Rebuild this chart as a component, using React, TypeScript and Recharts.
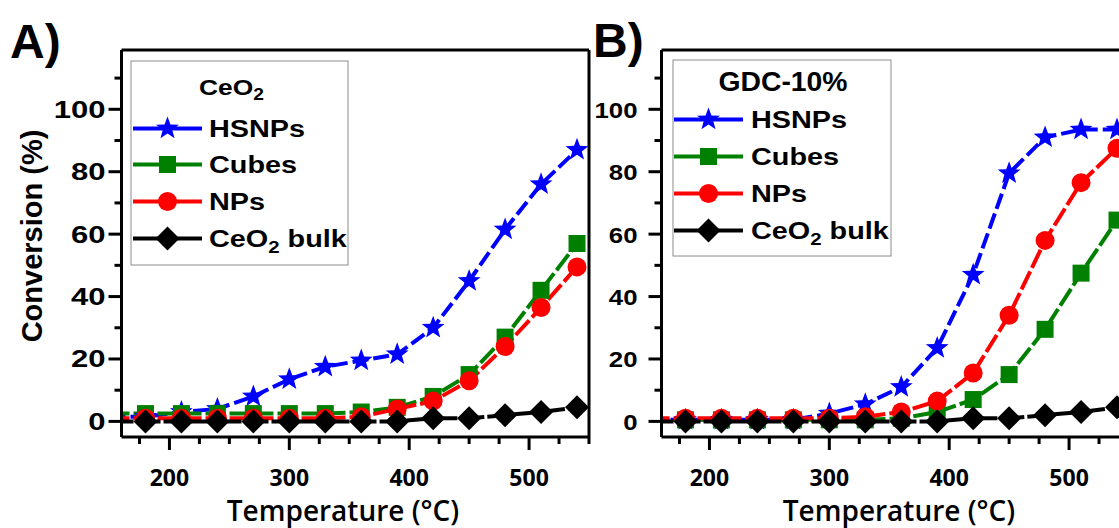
import React from 'react';
import { LineChart, Line, XAxis, YAxis } from 'recharts';

// temperature (°C) of each measurement
const temps = [150, 180, 210, 240, 270, 300, 330, 360, 390, 420, 450, 480, 510, 540];

// A) CeO2
const hsnpA = [1.5, 1.5, 3, 4, 8, 13.5, 17.5, 19.5, 21.5, 30, 45, 61.5, 76, 87];
const cubesA = [2.5, 2.5, 2.5, 2.5, 2.5, 2.5, 2.5, 3, 4.5, 8, 15, 27, 42, 57];
const npsA = [1, 1, 1, 1, 1, 1, 1, 1.5, 4, 6.5, 13, 24, 36.5, 49.5];
const bulkA = [0, 0, 0, 0, 0, 0, 0, 0, 0, 1, 1, 2, 3, 4.5];

// B) GDC-10%
const hsnpB = [0.5, 0.5, 0.5, 0.5, 0.5, 2.5, 5.5, 11, 23.5, 47, 79.5, 91, 93.5, 93.5];
const cubesB = [0.5, 0.5, 0.5, 0.5, 0.5, 0.5, 0.5, 1, 3, 7, 15, 29.5, 47.5, 64.5];
const npsB = [1, 1, 1, 1, 1, 1, 1.5, 3, 6.5, 15.5, 34, 58, 76.5, 87.5];
const bulkB = [0, 0, 0, 0, 0, 0, 0, 0, 0, 1, 1, 2, 3, 4.5];

const xTicks = [175, 200, 225, 250, 275, 300, 325, 350, 375, 400, 425, 450, 475, 500, 525, 550];
const yTicks = [0, 10, 20, 30, 40, 50, 60, 70, 80, 90, 100, 110];

const SANS = '"Liberation Sans", Arial, sans-serif';
const OPEN = '"Open Sans", sans-serif';
const AXIS = { stroke: '#000', strokeWidth: 3 };

type Shape = 'star' | 'square' | 'circle' | 'diamond';
const series: { key: string; name: string; color: string; dash: string; shape: Shape }[] = [
  { key: 'hsnps', name: 'HSNPs', color: '#0000ff', dash: '16 5', shape: 'star' },
  { key: 'cubes', name: 'Cubes', color: '#008000', dash: '20 4', shape: 'square' },
  { key: 'nps', name: 'NPs', color: '#ff0000', dash: '20 4', shape: 'circle' },
  { key: 'bulk', name: 'bulk', color: '#000000', dash: '24 3', shape: 'diamond' },
];

const rowsA = temps.map((t, i) => ({ t, hsnps: hsnpA[i], cubes: cubesA[i], nps: npsA[i], bulk: bulkA[i] }));
const rowsB = temps.map((t, i) => ({ t, hsnps: hsnpB[i], cubes: cubesB[i], nps: npsB[i], bulk: bulkB[i] }));

const starPath = (cx: number, cy: number, R: number, r: number) => {
  let d = '';
  for (let k = 0; k < 10; k++) {
    const rad = k % 2 === 0 ? R : r;
    const a = -Math.PI / 2 + (k * Math.PI) / 5;
    d += (k === 0 ? 'M' : 'L') + (cx + rad * Math.cos(a)).toFixed(2) + ',' + (cy + rad * Math.sin(a)).toFixed(2);
  }
  return d + 'Z';
};

function Marker({ shape, cx, cy, color }: { shape: Shape; cx: number; cy: number; color: string }) {
  if (shape === 'star') return <path d={starPath(cx, cy, 12, 5)} fill={color} />;
  if (shape === 'square') return <rect x={cx - 8.5} y={cy - 8.5} width={17} height={17} fill={color} />;
  if (shape === 'circle') return <circle cx={cx} cy={cy} r={9.5} fill={color} />;
  return <path d={`M${cx},${cy - 12}L${cx + 12},${cy}L${cx},${cy + 12}L${cx - 12},${cy}Z`} fill={color} />;
}

function SText({ x, y, sx = 1, anchor = 'start', size, family = SANS, weight = 700, children }: any) {
  return (
    <text transform={`translate(${x} ${y}) scale(${sx} 1)`} textAnchor={anchor} fontSize={size}
      fontFamily={family} fontWeight={weight} fill="#000">
      {children}
    </text>
  );
}

const XTick = (p: any) => {
  const v = p.payload.value;
  const major = v % 100 === 0;
  return (
    <g>
      <line x1={p.x} x2={p.x} y1={p.y} y2={p.y + (major ? 13 : 7)} stroke="#000" strokeWidth={3} />
      {major && (
        <text x={p.x} y={p.y + 49} textAnchor="middle" fontSize={23} fontFamily={OPEN} fontWeight={700}>{v}</text>
      )}
    </g>
  );
};

const makeYTick = (gap: number, sx: number) => (p: any) => {
  const v = p.payload.value;
  const major = v % 20 === 0;
  return (
    <g>
      <line x1={p.x - (major ? 13 : 7)} x2={p.x} y1={p.y} y2={p.y} stroke="#000" strokeWidth={3} />
      {major && v <= 100 && (
        <SText x={p.x - 13 - gap} y={p.y + 8.5} sx={sx} anchor="end" size={23}>{v}</SText>
      )}
    </g>
  );
};

// plot box: top 50, bottom 437; axis sizes are taken off the margins
function Panel({ data, left, width, plotLeft, plotRight, gap, sx }: any) {
  return (
    <div style={{ position: 'absolute', left, top: 0 }}>
      <LineChart width={width} height={528} data={data}
        margin={{ top: 49, left: plotLeft - 40, right: width - plotRight - 1, bottom: 528 - 437 - 30 }}>
        <XAxis dataKey="t" type="number" domain={[160, 550]} allowDataOverflow ticks={xTicks} interval={0}
          height={30} tickSize={0} tickMargin={0} tickLine={false} axisLine={AXIS} tick={XTick} />
        <XAxis xAxisId="top" orientation="top" dataKey="t" type="number" domain={[160, 550]} height={1}
          tick={false} tickLine={false} axisLine={AXIS} />
        <YAxis type="number" domain={[-5, 119]} allowDataOverflow ticks={yTicks} interval={0} width={40}
          tickSize={0} tickMargin={0} tickLine={false} axisLine={AXIS} tick={makeYTick(gap, sx)} />
        <YAxis yAxisId="right" orientation="right" type="number" domain={[-5, 119]} width={1}
          tick={false} tickLine={false} axisLine={AXIS} />
        {series.map((s) => (
          <Line key={s.key} dataKey={s.key} type="linear" stroke={s.color} strokeWidth={4}
            strokeDasharray={s.dash} isAnimationActive={false}
            dot={(d: any) => <Marker key={`${s.key}-${d.index}`} shape={s.shape} cx={d.cx} cy={d.cy} color={s.color} />}
            activeDot={false} />
        ))}
      </LineChart>
    </div>
  );
}

function LegendBox({ x, y, w, h, sampleX, textX, baselines, title }: any) {
  return (
    <g>
      <rect x={x} y={y} width={w} height={h} fill="#fff" stroke="#8c8c8c" strokeWidth={1} />
      {title}
      {series.map((s, i) => {
        const cy = baselines[i] - 8.5;
        return (
          <g key={s.key}>
            <line x1={sampleX} x2={sampleX + 69} y1={cy} y2={cy} stroke={s.color} strokeWidth={4} />
            <Marker shape={s.shape} cx={sampleX + 34.5} cy={cy} color={s.color} />
            {s.key === 'bulk' ? (
              <SText x={textX} y={baselines[i]} sx={1.2} size={24}>
                <tspan>CeO</tspan><tspan dy={6} fontSize={17}>2</tspan><tspan dy={-6}> bulk</tspan>
              </SText>
            ) : (
              <SText x={textX} y={baselines[i]} sx={1.2} size={24}>{s.name}</SText>
            )}
          </g>
        );
      })}
    </g>
  );
}

export default function App() {
  return (
    <div style={{ position: 'absolute', left: 0, top: 0, width: 1119, height: 528, overflow: 'hidden', background: '#fff' }}>
      <Panel data={rowsA} left={0} width={600} plotLeft={121.5} plotRight={589} gap={3} sx={1.35} />
      <Panel data={rowsB} left={560} width={600} plotLeft={101.5} plotRight={569} gap={11} sx={1.12} />
      <svg width={1119} height={528} style={{ position: 'absolute', left: 0, top: 0, pointerEvents: 'none' }}>
        <SText x={10} y={58} size={48}>A)</SText>
        <SText x={593} y={57} size={48}>B)</SText>
        <text transform="translate(42 236) rotate(-90)" textAnchor="middle" fontSize={29} fontFamily={SANS}
          fontWeight={700}>Conversion (%)</text>
        <text x={343} y={521} textAnchor="middle" fontSize={28} fontFamily={OPEN} fontWeight={600}>Temperature (°C)</text>
        <text x={899} y={521} textAnchor="middle" fontSize={28} fontFamily={OPEN} fontWeight={600}>Temperature (°C)</text>
        <LegendBox x={131} y={61} w={217} h={204} sampleX={133} textX={209} baselines={[137, 173, 210, 247]}
          title={
            <SText x={199} y={95} sx={1.2} size={22}>
              <tspan>CeO</tspan><tspan dy={5} fontSize={16}>2</tspan>
            </SText>
          } />
        <LegendBox x={673} y={60} w={218} h={196} sampleX={674} textX={751} baselines={[128, 165, 202, 239]}
          title={<SText x={783} y={91} sx={1.05} size={27} anchor="middle">GDC-10%</SText>} />
      </svg>
    </div>
  );
}
